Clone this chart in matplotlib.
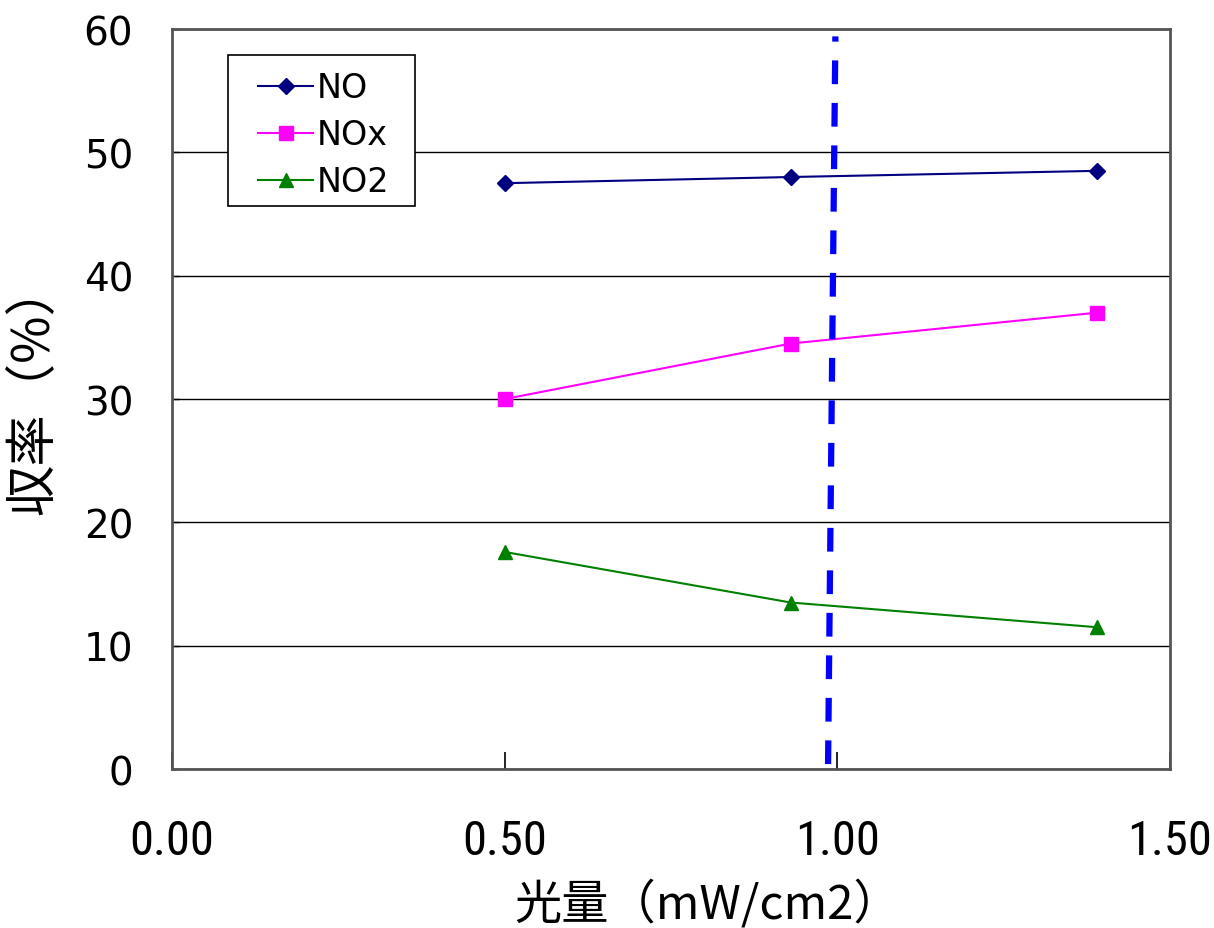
import matplotlib
matplotlib.use("Agg")
import matplotlib.pyplot as plt
from matplotlib import font_manager
from matplotlib.patches import Rectangle

plt.rcParams['font.family'] = ['DejaVu Sans', 'Noto Sans CJK JP']

light = [0.50, 0.93, 1.39]
no_vals = [47.5, 48.0, 48.5]
nox_vals = [30.0, 34.5, 37.0]
no2_vals = [17.6, 13.5, 11.5]
ref_x = [0.986, 0.997]
ref_y = [0.4, 59.4]
yticks = [0, 10, 20, 30, 40, 50, 60]
xticks = [0.0, 0.5, 1.0, 1.5]

names = {f.name for f in font_manager.fontManager.ttflist}
narrow = None
for cand in ['Liberation Sans Narrow', 'DejaVu Sans Condensed', 'Roboto Condensed']:
    if cand in names:
        narrow = cand
        break

fig = plt.figure(figsize=(12.14, 9.29), dpi=100)
ax = fig.add_axes([0.1417, 0.1711, 0.8221, 0.7966])

ax.plot(light, no_vals, color='#000080', marker='D', markersize=8.5, lw=1.5, label='NO')
ax.plot(light, nox_vals, color='#FF00FF', marker='s', markersize=10, lw=1.5, label='NOx')
ax.plot(light, no2_vals, color='#008000', marker='^', markersize=10, lw=1.5, label='NO2')
ax.plot(ref_x, ref_y, color='#0000FF', lw=4.5, dashes=(3.8, 3.0))

ax.set_xlim(0, 1.5)
ax.set_ylim(0, 60)
ax.set_yticks(yticks)
ax.set_xticks(xticks)
ax.set_yticklabels([str(v) for v in yticks], fontsize=28, family=['DejaVu Sans'])
if narrow:
    ax.set_xticklabels([f'{v:.2f}' for v in xticks], fontsize=35, family=[narrow, 'DejaVu Sans'])
else:
    ax.set_xticklabels([f'{v:.2f}' for v in xticks], fontsize=29, family=['Liberation Sans'])
ax.tick_params(axis='x', direction='in', length=12, width=1.2, pad=35, colors='black')
ax.tick_params(axis='y', direction='in', length=5, width=1, pad=28)
ax.grid(axis='y', color='black', lw=1)
ax.set_axisbelow(True)
for s in ax.spines.values():
    s.set_color('#555555')
    s.set_linewidth(2)

ax.set_ylabel('収率（%）', fontsize=37, family=['Noto Sans CJK JP', 'DejaVu Sans'], va='center')
ax.yaxis.set_label_coords(-0.139, 0.516)
ax.set_xlabel('光量（mW/cm2）', fontsize=34, family=['Noto Sans CJK JP', 'DejaVu Sans'], va='center')
ax.xaxis.set_label_coords(0.537, -0.182)

ax.add_patch(Rectangle((0.0561, 0.761), 0.1874, 0.204, transform=ax.transAxes,
                       facecolor='white', edgecolor='black', lw=1.2, zorder=4))
leg = ax.legend(loc='upper left', bbox_to_anchor=(0.0862, 0.943), fontsize=24, frameon=False,
                handlelength=1.65, handletextpad=0.12, labelspacing=0.42, borderpad=0,
                borderaxespad=0)
leg.set_zorder(5)

fig.savefig('out.png', dpi=100, facecolor='white')
